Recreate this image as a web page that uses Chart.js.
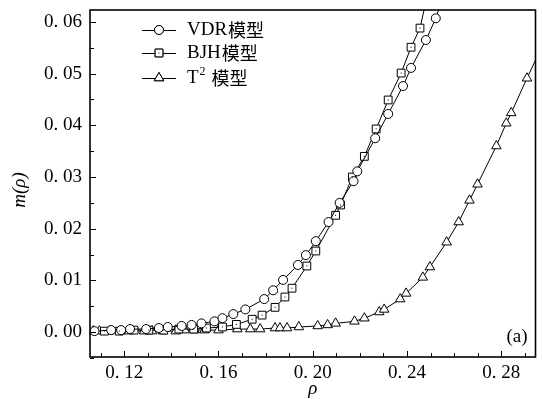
<!DOCTYPE html>
<html>
<head>
<meta charset="utf-8">
<script src="https://cdn.jsdelivr.net/npm/chart.js@4"></script>
<style>
  html, body { margin: 0; padding: 0; background: #fff; }
  #wrap { width: 542px; height: 399px; position: relative; }
</style>
</head>
<body>
<div id="wrap"><canvas id="chart"></canvas></div>
<script>
// values
const rhoVDR = [0.1074, 0.1145, 0.1187, 0.1225, 0.1293, 0.1347, 0.1385, 0.1444, 0.1486, 0.1528, 0.1583, 0.1617, 0.1663, 0.1714, 0.1794, 0.1832, 0.1874, 0.1937, 0.1971, 0.2013, 0.2067, 0.2114, 0.2173, 0.2189, 0.2265, 0.2320, 0.2383, 0.2417, 0.2480, 0.2522, 0.2560];
const mVDR = [0.0002, 0.0004, 0.0004, 0.0006, 0.0006, 0.0008, 0.0010, 0.0012, 0.0014, 0.0017, 0.0021, 0.0027, 0.0035, 0.0044, 0.0064, 0.0081, 0.0101, 0.0130, 0.0149, 0.0176, 0.0213, 0.0250, 0.0292, 0.0311, 0.0375, 0.0422, 0.0476, 0.0511, 0.0565, 0.0607, 0.0660];

const rhoBJH = [0.1116, 0.1179, 0.1242, 0.1305, 0.1368, 0.1432, 0.1495, 0.1549, 0.1617, 0.1676, 0.1743, 0.1785, 0.1840, 0.1882, 0.1912, 0.1975, 0.2013, 0.2097, 0.2118, 0.2168, 0.2219, 0.2269, 0.2320, 0.2375, 0.2417, 0.2455, 0.2500];
const mBJH = [0.0002, 0.0002, 0.0004, 0.0004, 0.0004, 0.0006, 0.0006, 0.0008, 0.0010, 0.0015, 0.0025, 0.0033, 0.0048, 0.0068, 0.0085, 0.0128, 0.0157, 0.0226, 0.0246, 0.0300, 0.0340, 0.0393, 0.0449, 0.0501, 0.0551, 0.0588, 0.0680];

const rhoT2 = [0.1069, 0.1095, 0.1137, 0.1183, 0.1221, 0.1284, 0.1318, 0.1364, 0.1419, 0.1457, 0.1499, 0.1541, 0.1600, 0.1680, 0.1735, 0.1777, 0.1840, 0.1861, 0.1891, 0.1941, 0.2021, 0.2063, 0.2097, 0.2177, 0.2219, 0.2282, 0.2303, 0.2371, 0.2396, 0.2467, 0.2497, 0.2568, 0.2619, 0.2665, 0.2699, 0.2779, 0.2821, 0.2842, 0.2909, 0.2980];
const mT2 = [0.0002, 0.0002, 0.0002, 0.0002, 0.0002, 0.0002, 0.0002, 0.0002, 0.0002, 0.0004, 0.0004, 0.0004, 0.0004, 0.0006, 0.0006, 0.0006, 0.0008, 0.0008, 0.0008, 0.0010, 0.0012, 0.0014, 0.0017, 0.0021, 0.0027, 0.0039, 0.0044, 0.0064, 0.0075, 0.0106, 0.0126, 0.0174, 0.0213, 0.0255, 0.0286, 0.0360, 0.0404, 0.0424, 0.0491, 0.0560];

const xTicks = [0.12, 0.16, 0.20, 0.24, 0.28];
const yTicks = [0, 0.01, 0.02, 0.03, 0.04, 0.05, 0.06];
const seriesNames = ['VDR模型', 'BJH模型', 'T² 模型'];

const serif = '"Liberation Serif", "DejaVu Serif", serif';
const cjk = '"Noto Sans CJK SC", sans-serif';

const pts = (xs, ys) => xs.map((x, i) => ({ x: x, y: ys[i] }));
const fmt = v => v.toFixed(2).replace('.', '. ');

const base = {
  borderColor: '#000',
  borderWidth: 1,
  backgroundColor: '#fff',
  pointBackgroundColor: '#fff',
  pointBorderColor: '#000',
  pointBorderWidth: 1,
  tension: 0,
  fill: false
};

// inward ticks, frame, titles, legend and label
const decor = {
  id: 'decor',
  afterDatasetsDraw(chart) {
    const ctx = chart.ctx;
    const a = chart.chartArea;
    const xs = chart.scales.x, ys = chart.scales.y;
    ctx.save();
    // dot inside squares
    const meta = chart.getDatasetMeta(1);
    ctx.fillStyle = '#000';
    meta.data.forEach(p => {
      if (p.x >= a.left && p.x <= a.right && p.y >= a.top && p.y <= a.bottom) {
        ctx.fillRect(p.x - 0.5, p.y - 0.5, 1, 1);
      }
    });

    ctx.strokeStyle = '#000';
    ctx.lineWidth = 1;
    ctx.beginPath();
    for (let i = 11; i <= 29; i++) {
      const px = Math.round(xs.getPixelForValue(i / 100)) + 0.5;
      const len = (i % 4 === 0) ? 6 : 4;
      ctx.moveTo(px, a.bottom);
      ctx.lineTo(px, a.bottom - len);
    }
    for (let i = -1; i <= 12; i++) {
      const py = Math.round(ys.getPixelForValue(i * 0.005)) + 0.5;
      const len = (i % 2 === 0) ? 6 : 4;
      ctx.moveTo(a.left, py);
      ctx.lineTo(a.left + len, py);
    }
    ctx.stroke();

    ctx.lineWidth = 1.6;
    ctx.strokeRect(a.left, a.top, a.right - a.left, a.bottom - a.top);

    // axis titles
    ctx.fillStyle = '#000';
    ctx.font = 'italic 19px ' + serif;
    ctx.textAlign = 'center';
    ctx.textBaseline = 'middle';
    ctx.fillText('ρ', xs.getPixelForValue(0.20), 389);
    ctx.save();
    ctx.translate(20, 190);
    ctx.rotate(-Math.PI / 2);
    ctx.fillText('m(ρ)', 0, 0);
    ctx.restore();

    // (a)
    ctx.font = '19px ' + serif;
    ctx.fillText('(a)', 517, 337);

    // legend
    const styles = ['circle', 'rect', 'triangle'];
    const radii = [4.5, 5.5, 5.5];
    const rows = [30, 53, 78];
    rows.forEach((ry, i) => {
      ctx.lineWidth = 1;
      ctx.strokeStyle = '#000';
      ctx.beginPath();
      ctx.moveTo(142, ry + 0.5);
      ctx.lineTo(176, ry + 0.5);
      ctx.stroke();
      ctx.fillStyle = '#fff';
      Chart.helpers.drawPoint(ctx, { pointStyle: styles[i], radius: radii[i], borderWidth: 1 }, 159, ry);
      ctx.fill();
      ctx.stroke();
      if (i === 1) {
        ctx.fillStyle = '#000';
        ctx.fillRect(158.5, ry - 0.5, 1, 1);
      }
      ctx.fillStyle = '#000';
      ctx.textAlign = 'left';
      ctx.textBaseline = 'middle';
      let tx = 187;
      if (i === 2) {
        ctx.font = '19px ' + serif;
        ctx.fillText('T', tx, ry);
        tx += ctx.measureText('T').width + 1;
        ctx.font = '12px ' + serif;
        ctx.fillText('2', tx, ry - 6);
        tx += ctx.measureText('2').width + 6;
        ctx.font = '18px ' + cjk;
        ctx.fillText('模型', tx, ry);
      } else {
        const latin = seriesNames[i].replace('模型', '');
        ctx.font = '19px ' + serif;
        ctx.fillText(latin, tx, ry);
        tx += ctx.measureText(latin).width + 1;
        ctx.font = '18px ' + cjk;
        ctx.fillText('模型', tx, ry);
      }
    });
    ctx.restore();
  }
};

new Chart(document.getElementById('chart'), {
  type: 'line',
  data: {
    datasets: [
      Object.assign({}, base, { label: seriesNames[0], data: pts(rhoVDR, mVDR), pointStyle: 'circle', pointRadius: 4.5 }),
      Object.assign({}, base, { label: seriesNames[1], data: pts(rhoBJH, mBJH), pointStyle: 'rect', pointRadius: 5.5 }),
      Object.assign({}, base, { label: seriesNames[2], data: pts(rhoT2, mT2), pointStyle: 'triangle', pointRadius: 5.5 })
    ]
  },
  plugins: [decor],
  options: {
    responsive: true,
    maintainAspectRatio: false,
    animation: false,
    events: [],
    layout: { padding: { top: 10, right: 3, left: 0, bottom: 0 } },
    plugins: { legend: { display: false }, tooltip: { enabled: false } },
    scales: {
      x: {
        type: 'linear',
        min: 0.1055,
        max: 0.2945,
        afterBuildTicks: s => { s.ticks = xTicks.map(v => ({ value: v })); },
        afterFit: s => { s.height = 42; s.paddingLeft = 0; s.paddingRight = 0; },
        grid: { display: false, drawTicks: false },
        border: { display: false },
        ticks: {
          color: '#000',
          padding: 5,
          maxRotation: 0,
          autoSkip: false,
          font: { family: serif, size: 19 },
          callback: v => fmt(v)
        }
      },
      y: {
        type: 'linear',
        min: -0.0048,
        max: 0.0623,
        afterBuildTicks: s => { s.ticks = yTicks.map(v => ({ value: v })); },
        afterFit: s => { s.width = 90; s.paddingTop = 0; s.paddingBottom = 0; },
        grid: { display: false, drawTicks: false },
        border: { display: false },
        ticks: {
          color: '#000',
          padding: 8,
          autoSkip: false,
          font: { family: serif, size: 19 },
          callback: v => fmt(v)
        }
      }
    }
  }
});
</script>
</body>
</html>
